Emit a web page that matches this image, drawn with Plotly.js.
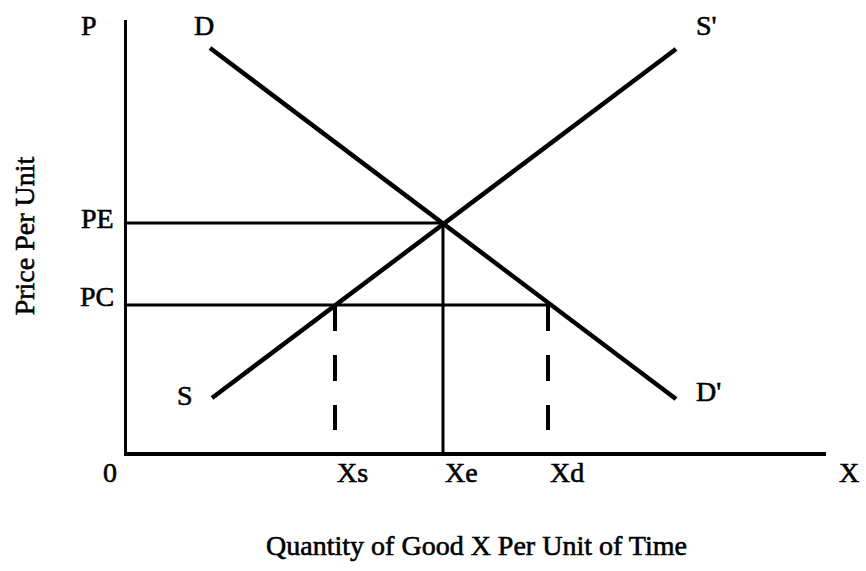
<!DOCTYPE html>
<html>
<head>
<meta charset="utf-8">
<script src="https://cdn.plot.ly/plotly-3.0.1.min.js"></script>
<style>
html,body{margin:0;padding:0;background:#fff;}
#chart{width:866px;height:571px;}
#chart svg text{stroke:#000;stroke-width:0.6px;}
</style>
</head>
<body>
<div id="chart"></div>
<script>
// Curve endpoints (quantity, price)
const demandQ = [8.3, 54.9];
const demandP = [40.4, 5.3];
const supplyQ = [8.5, 54.9];
const supplyP = [5.4, 40.3];
// Price levels
const priceLabels = ['PE', 'PC'];
const priceValues = [22.9, 14.7];
// Quantity levels
const quantityLabels = ['Xs', 'Xe', 'Xd'];
const quantityValues = [20.8, 31.6, 42.1];
const dashBottom = 2.2;
const curveLabels = ['D', "D'", 'S', "S'"];

const PE = priceValues[0], PC = priceValues[1];
const Xs = quantityValues[0], Xe = quantityValues[1], Xd = quantityValues[2];
const serif = 'Liberation Serif, Times New Roman, serif';
const black = '#000';

const traces = [
  {x: demandQ, y: demandP, mode: 'lines', line: {color: black, width: 4.5}, name: 'Demand'},
  {x: supplyQ, y: supplyP, mode: 'lines', line: {color: black, width: 4.5}, name: 'Supply'},
  {x: [0, Xe], y: [PE, PE], mode: 'lines', line: {color: black, width: 2.8}, name: 'PE'},
  {x: [Xe, Xe], y: [PE, 0], mode: 'lines', line: {color: black, width: 3}, name: 'Xe'},
  {x: [0, Xd], y: [PC, PC], mode: 'lines', line: {color: black, width: 2.8}, name: 'PC'},
  {x: [Xs, Xs], y: [PC, dashBottom], mode: 'lines', line: {color: black, width: 4, dash: '26px,24px'}, name: 'Xs'},
  {x: [Xd, Xd], y: [PC, dashBottom], mode: 'lines', line: {color: black, width: 4, dash: '26px,24px'}, name: 'Xd'}
];

const f = {family: serif, size: 28, color: black};
const ann = [];
function add(o) { ann.push(Object.assign({showarrow: false, font: f, xanchor: 'center', yanchor: 'middle'}, o)); }
// curve labels
add({x: demandQ[0], y: demandP[0], text: curveLabels[0], xshift: -6, yshift: 23});
add({x: demandQ[1], y: demandP[1], text: curveLabels[1], xshift: 32, yshift: 8});
add({x: supplyQ[0], y: supplyP[0], text: curveLabels[2], xshift: -27, yshift: 3});
add({x: supplyQ[1], y: supplyP[1], text: curveLabels[3], xshift: 30, yshift: 24});
// price labels
priceLabels.forEach((t, i) => add({xref: 'paper', x: 0, y: priceValues[i], text: t, xanchor: 'right', xshift: -11, yshift: i === 0 ? 5 : 9}));
// quantity labels
quantityLabels.forEach((t, i) => add({x: quantityValues[i], y: 0, text: t, xanchor: 'left', xshift: 0, yshift: -20}));
// axis end labels
add({xref: 'paper', yref: 'paper', x: 0, y: 1, text: 'P', xshift: -38, yshift: -5});
add({xref: 'paper', yref: 'paper', x: 0, y: 0, text: '0', xshift: -17, yshift: -20});
add({xref: 'paper', yref: 'paper', x: 1, y: 0, text: 'X', xshift: 23, yshift: -20});

const layout = {
  width: 866, height: 571,
  margin: {l: 127, r: 40, t: 20, b: 119},
  paper_bgcolor: '#fff', plot_bgcolor: '#fff',
  showlegend: false,
  font: {family: serif, size: 28, color: black},
  xaxis: {
    range: [0, 69.9], showgrid: false, zeroline: false, showticklabels: false, ticks: '',
    showline: true, linecolor: black, linewidth: 3.5,
    title: {text: 'Quantity of Good X Per Unit of Time', font: f, standoff: 82}
  },
  yaxis: {
    range: [0, 43.2], showgrid: false, zeroline: false, showticklabels: false, ticks: '',
    showline: true, linecolor: black, linewidth: 3,
    title: {text: 'Price Per Unit', font: f, standoff: 82}
  },
  annotations: ann
};

Plotly.newPlot('chart', traces, layout, {displayModeBar: false, staticPlot: true});
</script>
</body>
</html>
